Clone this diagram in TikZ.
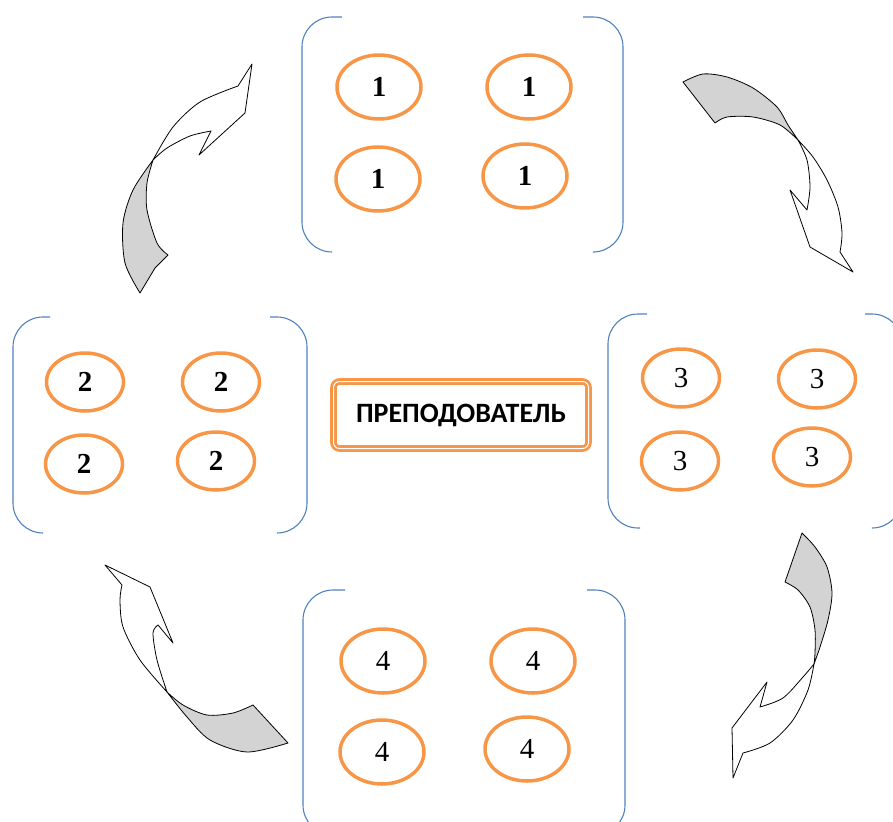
\documentclass[tikz,border=0pt]{standalone}
\usepackage{fontspec}
\setmainfont{Liberation Serif}
\newfontfamily\teacherfont{Carlito}
\usepackage{tikz}
\usetikzlibrary{
	shapes.geometric,
	positioning
}
\definecolor{pupilorange}{HTML}{F79646}
\definecolor{groupblue}{HTML}{4F81BD}
\definecolor{tailgray}{HTML}{D3D3D3}

\begin{document}
\begin{tikzpicture}[
		x=1pt, y=-1pt,
		pupil/.style={ellipse, draw=pupilorange, line width=3.5pt, inner sep=0pt,
			font=\fontsize{29}{32}\selectfont},
		wide/.style={minimum width=84pt, minimum height=64pt},
		narrow/.style={minimum width=77pt, minimum height=58pt},
		teacher/.style={draw=pupilorange, double=white, line width=2.8pt,
			double distance=1pt, rounded corners=6pt, minimum width=255pt,
			minimum height=67pt, font=\teacherfont\bfseries\fontsize{28}{32}\selectfont},
		bracket/.style={draw=groupblue, line width=1.1pt, rounded corners=30pt},
		head/.style={draw=black, fill=white, line width=0.8pt, line join=round},
		tail/.style={draw=black, fill=tailgray, line width=0.8pt, line join=round}
	]
		\useasboundingbox (0,0) rectangle (893,821);

		% group brackets
		\draw[bracket] (342,17) -- (302,17) -- (302,252) -- (332,252);
		\draw[bracket] (583,17) -- (623,17) -- (623,252) -- (595,252);
		\draw[bracket] (50,317) -- (13,317) -- (13,533) -- (42,533);
		\draw[bracket] (270,317) -- (307,317) -- (307,533) -- (278,533);
		\draw[bracket] (647,314) -- (608,314) -- (608,528) -- (640,528);
		\draw[bracket] (865,314) -- (902,314) -- (902,528) -- (873,528);
		\draw[bracket] (345,590) -- (303,590) -- (303,835) -- (335,835);
		\draw[bracket] (587,590) -- (625,590) -- (625,835) -- (595,835);

		\draw
			node[pupil,wide]   (p11) at (379,87)  {\textbf{1}}
			node[pupil,wide]   (p12) at (529,87)  {\textbf{1}}
			node[pupil,wide]   (p13) at (378,179) {\textbf{1}}
			node[pupil,wide]   (p14) at (525,176) {\textbf{1}}

			node[pupil,narrow] (p21) at (85,382)  {\textbf{2}}
			node[pupil,narrow] (p22) at (221,382) {\textbf{2}}
			node[pupil,narrow] (p23) at (84,464)  {\textbf{2}}
			node[pupil,narrow] (p24) at (216,461) {\textbf{2}}

			node[pupil,narrow] (p31) at (681,378) {3}
			node[pupil,narrow] (p32) at (817,379) {3}
			node[pupil,narrow] (p33) at (680,461) {3}
			node[pupil,narrow] (p34) at (812,457) {3}

			node[pupil,wide]   (p41) at (383,661) {4}
			node[pupil,wide]   (p42) at (533,661) {4}
			node[pupil,wide]   (p43) at (382,752) {4}
			node[pupil,wide]   (p44) at (527,749) {4}

			node[teacher]      (t)   at (461,415) {ПРЕПОДОВАТЕЛЬ}
		;

		% twisted arrows, clockwise
		\filldraw[tail] plot[smooth] coordinates {(153,160) (133,190) (123,223) (125,263) (140,293)}
			-- (155,268) -- (168,255)
			-- plot[smooth] coordinates {(168,255) (157,243) (147,210) (147,183) (153,160)} -- cycle;
		\filldraw[head] plot[smooth] coordinates {(153,160) (173,127) (200,102) (238,86)}
			-- (252,64) -- (245,113) -- (199,155) -- (211,131)
			-- plot[smooth] coordinates {(211,131) (190,136) (167,148) (153,160)} -- cycle;

		\filldraw[tail] plot[smooth] coordinates {(683,82) (703,74) (727,77) (753,88) (777,107) (788,125) (798,140)}
			-- plot[smooth] coordinates {(798,140) (780,125) (753,117) (727,117) (715,123)} -- cycle;
		\filldraw[head] plot[smooth] coordinates {(798,140) (813,157) (827,180) (838,207) (842,233) (840,252)}
			-- (853,272) -- (810,247) -- (790,190) -- (807,210)
			-- plot[smooth] coordinates {(807,210) (810,187) (807,160) (798,140)} -- cycle;

		\filldraw[tail] plot[smooth] coordinates {(802,533) (815,547) (827,567) (832,593) (828,620) (820,647) (814,664)}
			-- plot[smooth] coordinates {(814,664) (815,653) (815,630) (810,607) (798,590) (785,582)} -- cycle;
		\filldraw[head] plot[smooth] coordinates {(814,664) (808,690) (793,720) (770,743) (743,753)}
			-- (733,778) -- (732,728) -- (767,682) -- (760,707)
			-- plot[smooth] coordinates {(760,707) (783,698) (803,677) (814,664)} -- cycle;

		\filldraw[tail] plot[smooth] coordinates {(167,692) (187,717) (210,740) (247,752) (288,743)}
			-- (253,705)
			-- plot[smooth] coordinates {(253,705) (233,713) (207,715) (183,705) (167,692)} -- cycle;
		\filldraw[head] plot[smooth] coordinates {(167,692) (140,660) (123,627) (120,600) (122,585)}
			-- (105,565) -- (150,587) -- (173,643) -- (158,625)
			-- plot[smooth] coordinates {(158,625) (153,633) (157,660) (167,692)} -- cycle;
	\end{tikzpicture}
\end{document}
